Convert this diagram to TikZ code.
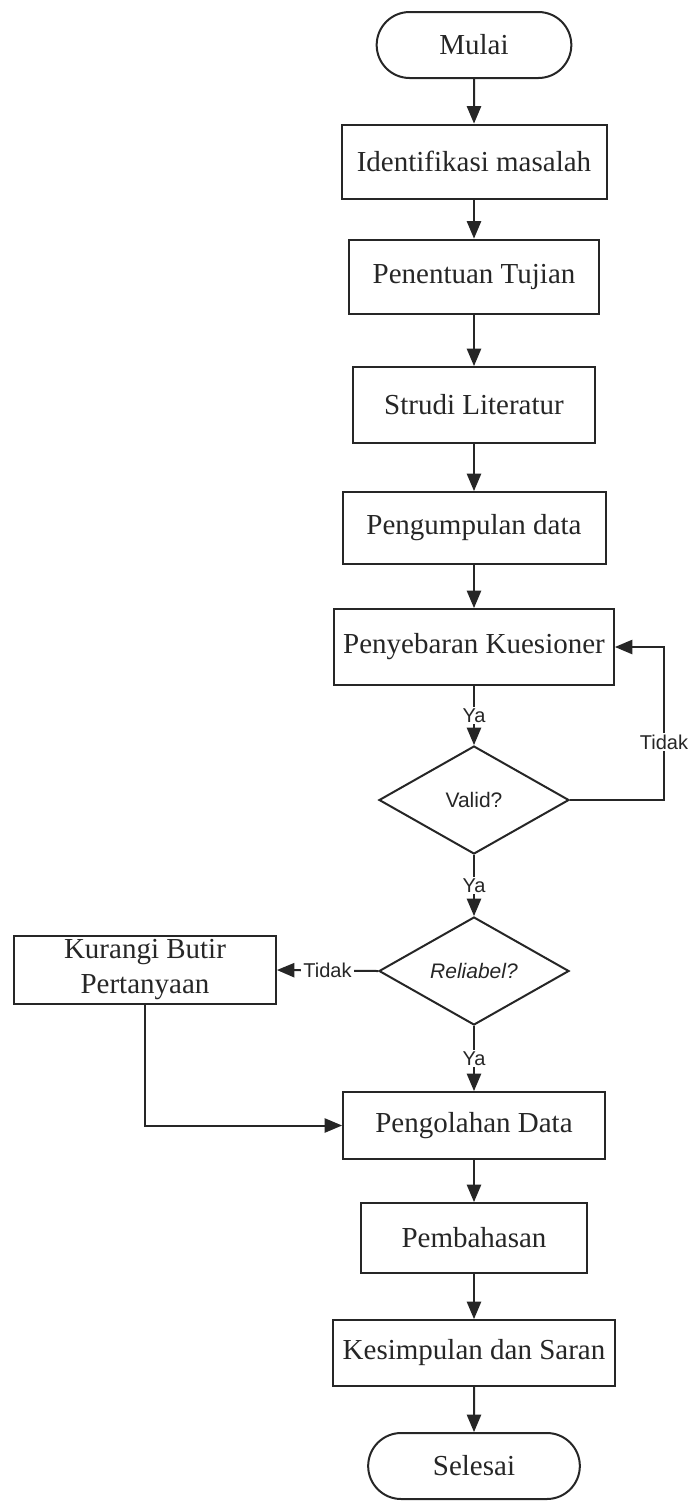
\documentclass[tikz,border=0pt]{standalone}
\usepackage{fontspec}
\setmainfont{Liberation Serif}
\setsansfont{Liberation Sans}
\usepackage{tikz}
\usetikzlibrary{shapes,arrows,positioning}

\begin{document}
\begin{tikzpicture}[x=0.5pt, y=-0.5pt, >=triangle 45, line width=1pt, color=black!85,
		terminal/.style={rounded rectangle, draw, minimum width=104pt, minimum height=33pt, font=\fontsize{14.5}{17}\selectfont},
		proses/.style={rectangle, draw, minimum width=#1, minimum height=37pt, inner sep=2pt, font=\fontsize{14.5}{17.5}\selectfont},
		keputusan/.style={diamond, draw, minimum width=95pt, minimum height=54pt, inner sep=0pt, font=\sffamily\fontsize{10.5}{12}\selectfont},
		ket/.style={fill=white, inner sep=1pt, font=\sffamily\fontsize{10}{12}\selectfont}]
	\useasboundingbox (0,0) rectangle (689,1501);

	\node[terminal] (mulai) at (474,45) {Mulai};
	\node[proses=132.5pt] (identifikasi) at (474,161.5) {Identifikasi masalah};
	\node[proses=125pt] (tujuan) at (474,276.5) {Penentuan Tujian};
	\node[proses=121pt, minimum height=38pt] (literatur) at (474,405) {Strudi Literatur};
	\node[proses=131.5pt, minimum height=36pt] (pengumpulan) at (474,528) {Pengumpulan data};
	\node[proses=140pt, minimum height=38pt] (kuesioner) at (474,647) {Penyebaran Kuesioner};
	\node[keputusan] (valid) at (474,800) {Valid?};
	\node[keputusan] (reliabel) at (474,971) {\itshape Reliabel?};
	\node[proses=131pt, minimum height=33pt, align=center] (kurangi) at (145,970) {Kurangi Butir\\Pertanyaan};
	\node[proses=131pt, minimum height=33.5pt] (pengolahan) at (474,1125.5) {Pengolahan Data};
	\node[proses=113pt, minimum height=35pt] (pembahasan) at (474,1238) {Pembahasan};
	\node[proses=141pt, minimum height=33pt] (kesimpulan) at (474,1353) {Kesimpulan dan Saran};
	\node[terminal, minimum width=112.5pt] (selesai) at (474,1466) {Selesai};

	% alur utama
	\foreach \a/\b in {mulai/identifikasi, identifikasi/tujuan, tujuan/literatur, literatur/pengumpulan,
			pengumpulan/kuesioner, pengolahan/pembahasan, pembahasan/kesimpulan, kesimpulan/selesai}
		\draw[->] (\a) -- (\b);

	\draw[->] (kuesioner) -- node[ket]{Ya} (valid);
	\draw[->] (valid) -- node[ket]{Ya} (reliabel);
	\draw[->] (reliabel) -- node[ket]{Ya} (pengolahan);

	% kembali bila tidak valid
	\draw[->] (valid.east) -- ++(94,0) |- node[ket, pos=0.19]{Tidak} (kuesioner.east);
	\draw[->] (reliabel.west) -- node[ket]{Tidak} (kurangi.east);
	\draw[->] (kurangi.south) |- (pengolahan.west);
\end{tikzpicture}
\end{document}
